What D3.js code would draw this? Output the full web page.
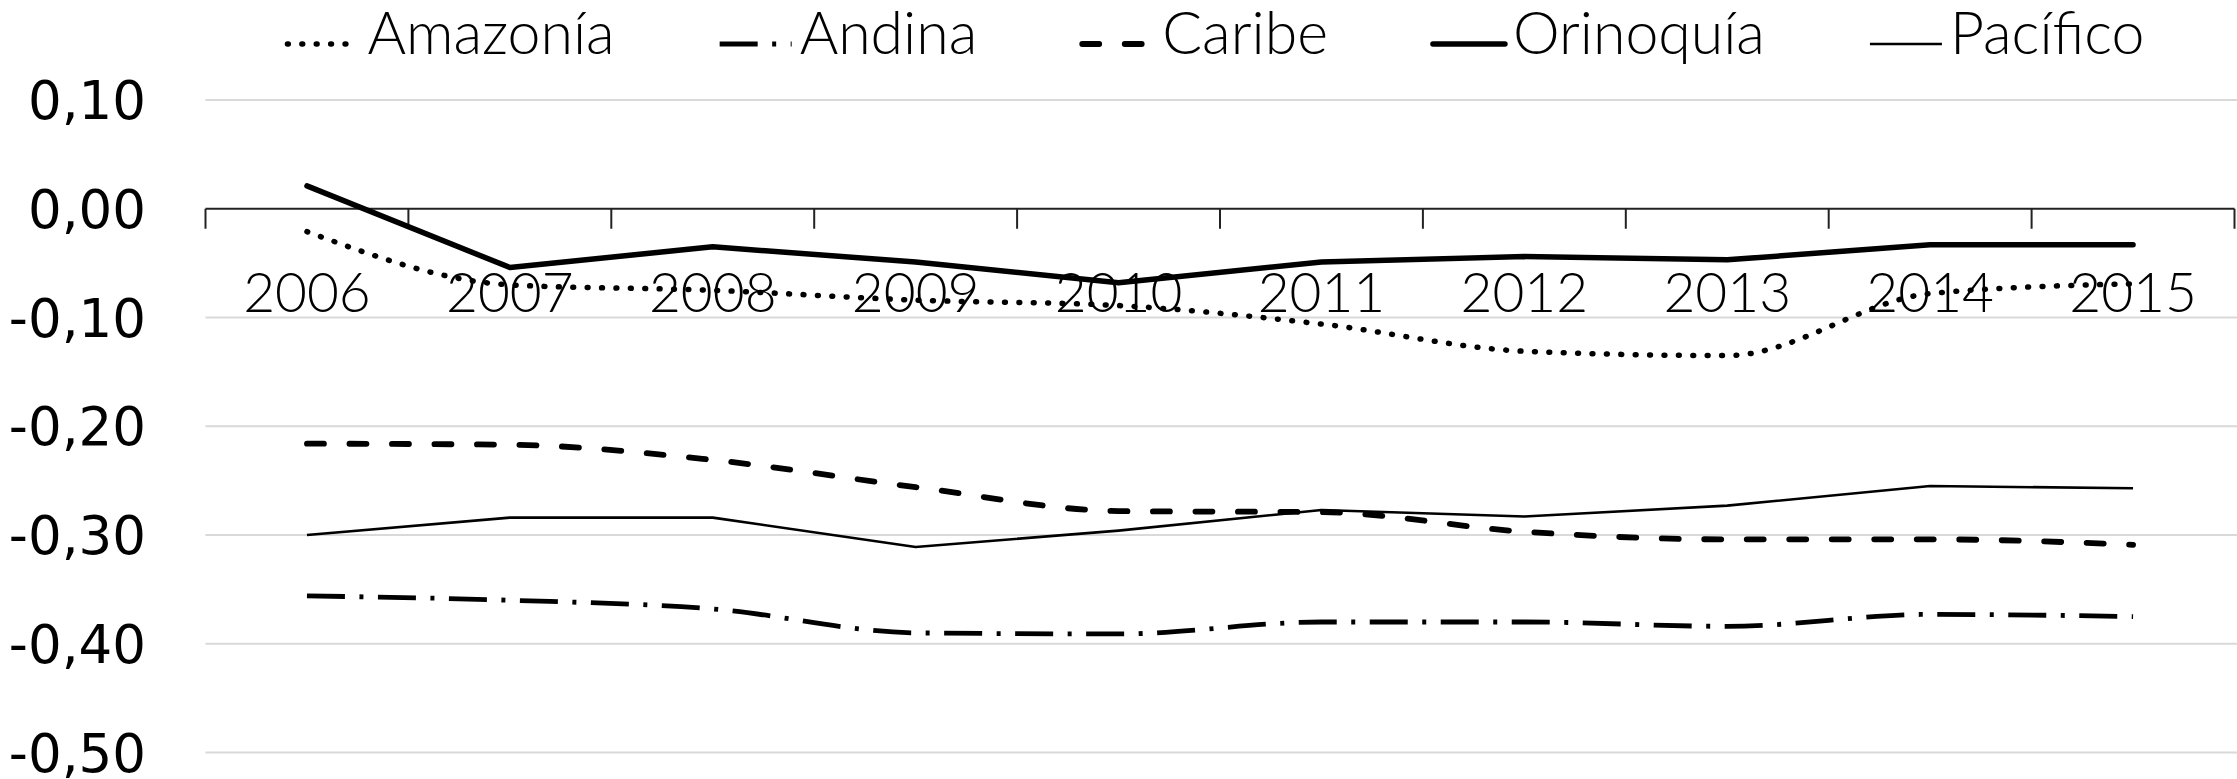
<!DOCTYPE html>
<html>
<head>
<meta charset="utf-8">
<script src="https://cdn.jsdelivr.net/npm/d3@7"></script>
<style>
  html, body { margin: 0; padding: 0; background: #fff; }
  svg { display: block; }
</style>
</head>
<body>
<svg id="chart" width="2237" height="779"></svg>
<script>
// ---- data ----
const years = ["2006","2007","2008","2009","2010","2011","2012","2013","2014","2015"];
const amazonia  = [-0.021,-0.070,-0.075,-0.084,-0.089,-0.106,-0.131,-0.135,-0.078,-0.069];
const andina    = [-0.356,-0.360,-0.368,-0.390,-0.391,-0.380,-0.380,-0.384,-0.373,-0.375];
const caribe    = [-0.216,-0.217,-0.231,-0.256,-0.278,-0.279,-0.297,-0.304,-0.304,-0.309];
const orinoquia = [0.021,-0.054,-0.035,-0.049,-0.068,-0.049,-0.044,-0.047,-0.033,-0.033];
const pacifico  = [-0.300,-0.284,-0.284,-0.311,-0.296,-0.277,-0.283,-0.273,-0.255,-0.257];
const seriesNames = ["Amazonía","Andina","Caribe","Orinoquía","Pacífico"];
const yTicks = [0.10, 0.00, -0.10, -0.20, -0.30, -0.40, -0.50];

(function () {
// ---- styles ----
const styles = {
  "Amazonía":  {width: 5.5, dash: "0.8 13.6", cap: "round", curve: "smooth"},
  "Andina":    {width: 4.8, dash: "38 14.5 4 14.5", cap: "butt", curve: "smooth"},
  "Caribe":    {width: 5.8, dash: "17 25.5", cap: "round", curve: "smooth"},
  "Orinoquía": {width: 5.5, dash: null, cap: "round", curve: "linear"},
  "Pacífico":  {width: 2.6, dash: null, cap: "butt", curve: "linear"}
};
const seriesValues = [amazonia, andina, caribe, orinoquia, pacifico];

const svg = d3.select("#chart");
const W = 2237;
const mLeft = 205.5, mRight = 2234.5, mTop = 100, mBottom = 752.5;

const x = d3.scaleBand().domain(years).range([mLeft, mRight]).padding(0);
const y = d3.scaleLinear().domain([-0.5, 0.1]).range([mBottom, mTop]);

const loc = d3.formatLocale({decimal: ",", thousands: ".", grouping: [3], currency: ["", ""], minus: "-"});
const fmt = loc.format(".2f");

// gridlines
svg.append("g").selectAll("line")
  .data(yTicks.filter(d => d !== 0))
  .join("line")
  .attr("x1", mLeft).attr("x2", W)
  .attr("y1", d => y(d)).attr("y2", d => y(d))
  .attr("stroke", "#d9d9d9").attr("stroke-width", 2);

// y labels
svg.append("g").selectAll("text")
  .data(yTicks)
  .join("text")
  .attr("x", 146)
  .attr("y", d => y(d))
  .attr("dy", "0.36em")
  .attr("text-anchor", "end")
  .attr("font-family", "DejaVu Sans")
  .attr("font-size", 53)
  .attr("fill", "#000")
  .text(d => fmt(d));

// x axis at zero
const xAxis = d3.axisBottom(x).tickSize(0).tickFormat(d => d);
const axG = svg.append("g").attr("transform", `translate(0,${y(0)})`).call(xAxis);
axG.select(".domain").remove();
axG.selectAll("text")
  .attr("font-family", "Lato").attr("font-weight", 300)
  .attr("font-size", 55).attr("fill", "#000")
  .attr("y", 0).attr("dy", "1.87em");
axG.append("line").attr("x1", mLeft).attr("x2", mRight).attr("y1", 0).attr("y2", 0)
  .attr("stroke", "#222").attr("stroke-width", 2);
const bounds = years.map(d => x(d)).concat([mRight]);
axG.selectAll("line.tk").data(bounds).join("line").attr("class", "tk")
  .attr("x1", d => d).attr("x2", d => d).attr("y1", 0).attr("y2", 20)
  .attr("stroke", "#222").attr("stroke-width", 2);

// lines
const cx = d => x(d) + x.bandwidth() / 2;
seriesNames.forEach((name, i) => {
  const st = styles[name];
  const line = d3.line()
    .x((v, j) => cx(years[j]))
    .y(v => y(v))
    .curve(st.curve === "smooth" ? d3.curveMonotoneX : d3.curveLinear);
  svg.append("path")
    .datum(seriesValues[i])
    .attr("d", line)
    .attr("fill", "none")
    .attr("stroke", "#000")
    .attr("stroke-width", st.width)
    .attr("stroke-linecap", st.cap)
    .attr("stroke-linejoin", "round")
    .attr("stroke-dasharray", st.dash);
});

// legend
const lg = svg.append("g");
const symLen = 72, symGap = 8, itemGap = 105, legY = 54, symY = 44;
const items = seriesNames.map(name => {
  const g = lg.append("g");
  const st = styles[name];
  g.append("line").attr("x1", 0).attr("x2", symLen).attr("y1", symY).attr("y2", symY)
    .attr("stroke", "#000").attr("stroke-width", st.width)
    .attr("stroke-linecap", st.cap).attr("stroke-dasharray", st.dash);
  const t = g.append("text").attr("x", symLen + symGap).attr("y", legY)
    .attr("font-family", "Lato").attr("font-weight", 300).attr("font-size", 59)
    .attr("fill", "#000").text(name);
  return {g, w: symLen + symGap + t.node().getComputedTextLength()};
});
const total = d3.sum(items, d => d.w) + itemGap * (items.length - 1);
let pos = 1216 - total / 2;
items.forEach(it => { it.g.attr("transform", `translate(${pos},0)`); pos += it.w + itemGap; });
})();
</script>
</body>
</html>
